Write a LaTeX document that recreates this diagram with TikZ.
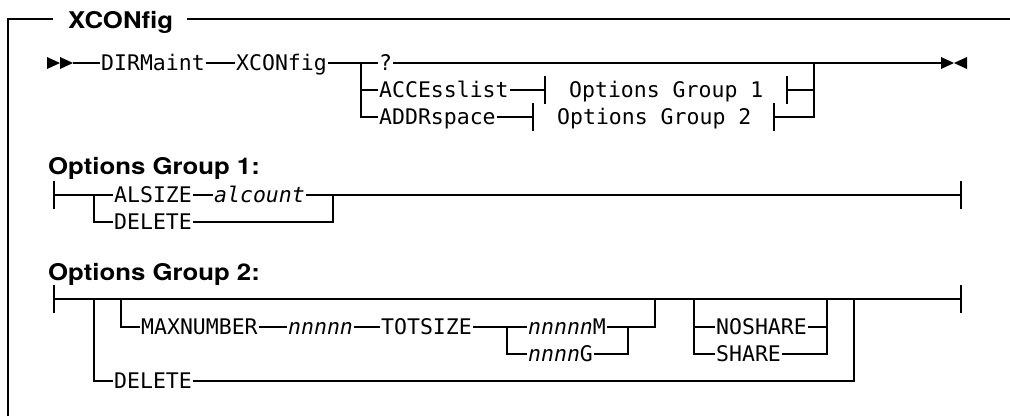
\documentclass[tikz,border=0pt]{standalone}
\usepackage{fontspec}
\setmainfont{TeX Gyre Heros}
\newfontfamily\hdrfont[FakeStretch=1.12]{TeX Gyre Heros}
\newfontfamily\railfont{DejaVu Sans Mono}
\usepackage{tikz}
\usetikzlibrary{calc}
\newcommand\railsize{\fontsize{21.5}{24}\selectfont}
\newcommand\hdrsize{\fontsize{23}{26}\selectfont}
\tikzset{
  rail/.style={line width=1.2pt},
  frame/.style={line width=1.4pt},
  kw/.style={font=\railfont\railsize,inner sep=1pt,text height=15.7pt,text depth=0pt,anchor=west},
  var/.style={kw,font=\railfont\railsize\itshape},
  hdr/.style={font=\hdrfont\hdrsize\bfseries,inner sep=0pt,text height=16.5pt,text depth=0pt,anchor=west},
  tick/.style={rail,shorten <=-14pt,shorten >=-14pt},
}

\begin{document}
\begin{tikzpicture}[x=1pt,y=-1pt]
  \useasboundingbox (0,0) rectangle (1010,416);
  % rahmen
  \node[hdr] (ttl) at (68,20) {XCONfig};
  \coordinate (fb) at (8,416);
  \coordinate (fr) at (1010,19);
  \draw[frame] (fb) |- ([xshift=-15pt,yshift=1pt]ttl.west);
  \draw[frame] ([xshift=14pt,yshift=1pt]ttl.east) -- (fr);
  % hauptzeile
  \foreach \x in {47,60} \fill (\x,57) -- (\x+13,63) -- (\x,69) -- cycle;
  \fill (941,57) -- (954,63) -- (941,69) -- cycle;
  \fill (967,57) -- (954,63) -- (967,69) -- cycle;
  \coordinate (s0) at (73,63);
  \coordinate (b1) at (361,63);
  \coordinate (j1) at (814,63);
  \coordinate (en) at (941,63);
  \node[kw] (dirm) at (100,63) {DIRMaint};
  \node[kw] (xcon) at (235,63) {XCONfig};
  \node[kw] (qm)   at (378,63) {?};
  \node[kw] (acc)  at (378,90) {ACCEsslist};
  \node[kw] (addr) at (378,117) {ADDRspace};
  \coordinate (g1in)  at (545,90);
  \coordinate (g1out) at (787,90);
  \coordinate (g2in)  at (533,117);
  \coordinate (g2out) at (774,117);
  \node[kw] (og1) at (568,90) {Options Group 1};
  \node[kw] (og2) at (556,117) {Options Group 2};
  \draw[rail] (s0) -- (dirm) -- (xcon) -- (b1) -- (qm) -- (en);
  \draw[rail] (b1) |- (acc) -- (g1in);
  \draw[rail] (b1) |- (addr) -- (g2in);
  \draw[rail] (g1out) -| (j1);
  \draw[rail] (g2out) -| (j1);
  \foreach \c in {g1in,g1out,g2in,g2out} \draw[tick] (\c) -- ([yshift=-0.01pt]\c);
  % gruppe 1
  \node[hdr] (h1) at (48,166) {Options Group 1:};
  \coordinate (p1) at (54,195);
  \coordinate (b2) at (94,195);
  \coordinate (j2) at (333,195);
  \coordinate (q1) at (961,195);
  \node[kw]  (als)  at (113,195) {ALSIZE};
  \node[var] (alc)  at (213,195) {alcount};
  \node[kw]  (del1) at (113,222) {DELETE};
  \draw[rail] (p1) -- (b2) -- (als) -- (alc) -- (j2) -- (q1);
  \draw[rail] (b2) |- (del1) -| (j2);
  % gruppe 2
  \node[hdr] (h2) at (48,272) {Options Group 2:};
  \coordinate (p2) at (54,299);
  \coordinate (b3) at (94,299);
  \coordinate (b4) at (121,299);
  \coordinate (j3) at (655,299);
  \coordinate (b5) at (694,299);
  \coordinate (j4) at (827,299);
  \coordinate (j5) at (854,299);
  \coordinate (q2) at (961,299);
  \coordinate (b6) at (507,327);
  \coordinate (j6) at (628,327);
  \node[kw]  (maxn) at (140,327) {MAXNUMBER};
  \node[var] (nn)   at (287,327) {nnnnn};
  \node[kw]  (tots) at (380,327) {TOTSIZE};
  \node[kw]  (nm)   at (527,327) {\textit{nnnnn}M};
  \node[kw]  (ng)   at (527,354) {\textit{nnnn}G};
  \node[kw]  (nosh) at (715,327) {NOSHARE};
  \node[kw]  (sh)   at (715,354) {SHARE};
  \node[kw]  (del2) at (113,381) {DELETE};
  \draw[rail] (p2) -- (q2);
  \draw[rail] (b4) |- (maxn) -- (nn) -- (tots) -- (b6) -- (nm) -- (j6) -| (j3);
  \draw[rail] (b6) |- (ng) -| (j6);
  \draw[rail] (b5) |- (nosh) -| (j4);
  \draw[rail] (b5) |- (sh) -| (j4);
  \draw[rail] (b3) |- (del2) -| (j5);
  \foreach \c in {p1,q1,p2,q2} \draw[tick] (\c) -- ([yshift=-0.01pt]\c);
\end{tikzpicture}
\end{document}
